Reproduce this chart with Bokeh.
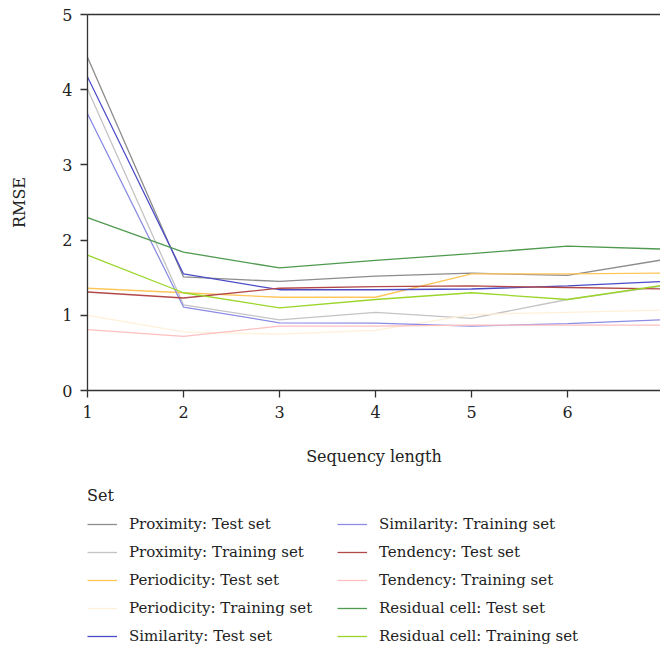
from bokeh.plotting import figure
from bokeh.layouts import column
from bokeh.models import Range1d, LinearAxis, FixedTicker, Legend, LegendItem
from bokeh.embed import file_html
from bokeh.resources import INLINE

seq_len = [1, 2, 3, 4, 5, 6, 7]
prox_test = [4.43, 1.51, 1.45, 1.52, 1.56, 1.53, 1.74]
prox_train = [4.01, 1.14, 0.94, 1.04, 0.96, 1.21, 1.39]
period_test = [1.36, 1.30, 1.24, 1.24, 1.55, 1.55, 1.56]
period_train = [1.00, 0.78, 0.75, 0.80, 1.01, 1.04, 1.07]
sim_test = [4.17, 1.55, 1.34, 1.34, 1.35, 1.39, 1.45]
sim_train = [3.68, 1.11, 0.90, 0.895, 0.855, 0.89, 0.94]
tend_test = [1.31, 1.23, 1.36, 1.38, 1.39, 1.37, 1.35]
tend_train = [0.81, 0.72, 0.855, 0.855, 0.87, 0.87, 0.87]
resid_test = [2.30, 1.84, 1.63, 1.73, 1.82, 1.92, 1.88]
resid_train = [1.80, 1.30, 1.10, 1.21, 1.30, 1.21, 1.40]

series_names = [
    "Proximity: Test set", "Proximity: Training set",
    "Periodicity: Test set", "Periodicity: Training set",
    "Similarity: Test set", "Similarity: Training set",
    "Tendency: Test set", "Tendency: Training set",
    "Residual cell: Test set", "Residual cell: Training set",
]
series_values = [prox_test, prox_train, period_test, period_train,
                 sim_test, sim_train, tend_test, tend_train,
                 resid_test, resid_train]
series_colors = ["#8c8c8c", "#c4c4c4", "#ffc65a", "#fff0d9",
                 "#4b4bc8", "#8c8ce6", "#b24848", "#ffbfbf",
                 "#4f9a4f", "#9ad62a"]

FONT = "DejaVu Serif"
FS = "16px"
LFS = "15px"
TXT = "#222222"

p = figure(width=660, height=475, output_backend="svg", toolbar_location=None,
           x_range=Range1d(1, 6.969), y_range=Range1d(0, 5),
           min_border_left=87, min_border_right=0, min_border_top=14,
           min_border_bottom=85)
p.outline_line_color = None
p.grid.visible = False

for ax in (p.xaxis[0], p.yaxis[0]):
    ax.axis_line_color = "#333333"
    ax.axis_line_width = 1.3
    ax.major_tick_line_color = "#333333"
    ax.major_tick_line_width = 1.3
    ax.major_tick_out = 7
    ax.major_tick_in = 0
    ax.minor_tick_line_color = None
    ax.major_label_text_font = FONT
    ax.major_label_text_font_size = FS
    ax.major_label_text_color = TXT
    ax.axis_label_text_font = FONT
    ax.axis_label_text_font_size = FS
    ax.axis_label_text_font_style = "normal"
    ax.axis_label_text_color = TXT
    ax.major_label_standoff = 8

p.xaxis.ticker = FixedTicker(ticks=seq_len)
p.yaxis.ticker = FixedTicker(ticks=[0, 1, 2, 3, 4, 5])
p.xaxis.axis_label = "Sequency length"
p.yaxis.axis_label = "RMSE"
p.xaxis.axis_label_standoff = 26
p.yaxis.axis_label_standoff = 30

top = LinearAxis(ticker=FixedTicker(ticks=[]), axis_line_color="#333333",
                 axis_line_width=1.3, major_label_text_font_size="0px",
                 major_tick_line_color=None, minor_tick_line_color=None)
p.add_layout(top, "above")

for name, vals, col in zip(series_names, series_values, series_colors):
    p.line(seq_len, vals, line_color=col, line_width=1.3)

# legend panel below the chart (its frame is aligned with the chart's frame)
q = figure(width=660, height=173, output_backend="svg", toolbar_location=None,
           x_range=Range1d(0, 1), y_range=Range1d(0, 1),
           min_border_left=87, min_border_right=0, min_border_top=0,
           min_border_bottom=0)
q.axis.visible = False
q.grid.visible = False
q.outline_line_color = None

items = []
for name, col in zip(series_names, series_colors):
    r = q.line(x=[-5, -4], y=[-5, -5], line_color=col, line_width=1.3)
    items.append(LegendItem(label=name, renderers=[r]))

def make_legend(its, loc, title=None):
    lg = Legend(items=its, location=loc, orientation="vertical")
    if title:
        lg.title = title
        lg.title_text_font = FONT
        lg.title_text_font_size = FS
        lg.title_text_font_style = "normal"
        lg.title_text_color = TXT
        lg.title_standoff = 9
    lg.label_text_font = FONT
    lg.label_text_font_size = LFS
    lg.label_text_color = TXT
    lg.glyph_width = 30
    lg.glyph_height = 20
    lg.label_height = 20
    lg.label_standoff = 12
    lg.spacing = 8
    lg.padding = 0
    lg.margin = 0
    lg.border_line_color = None
    lg.background_fill_alpha = 0
    lg.click_policy = "none"
    return lg

q.add_layout(make_legend(items[:5], (0, 2), title="Set"), "center")
q.add_layout(make_legend(items[5:], (250, 2)), "center")

layout = column(p, q, spacing=0)
open("out.html", "w").write(file_html(layout, INLINE))
